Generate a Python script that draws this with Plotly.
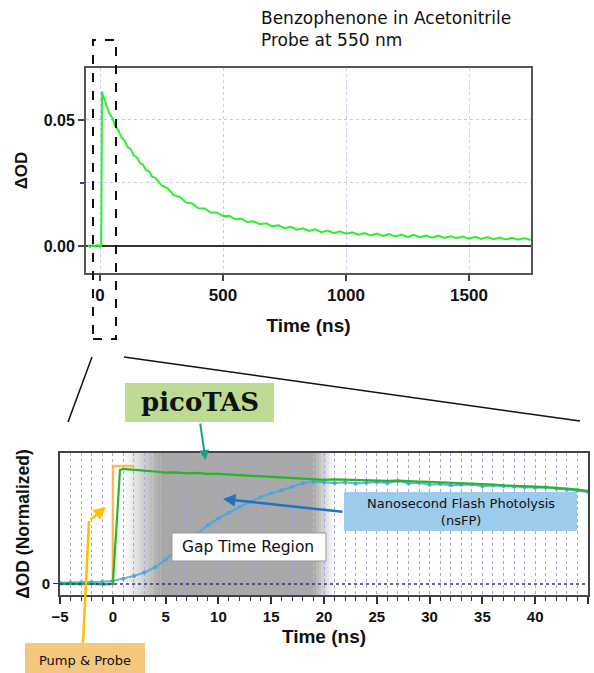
import plotly.graph_objects as go

# ---------------- data ----------------
# Top panel: Benzophenone in acetonitrile, probe 550 nm (Time in ns, dOD)
top_time = [-50, -40, -30, -20, -10, 0, 5, 8, 12, 18, 25, 37, 50, 62, 75, 87, 100, 112, 125, 137,
            150, 162, 175, 187, 200, 212, 225, 250, 275, 300, 325, 350, 375, 400, 425, 450, 475,
            500, 525, 550, 575, 600, 625, 650, 675, 700, 725, 750, 775, 800, 825, 850, 875, 900,
            925, 950, 975, 1000, 1025, 1050, 1075, 1100, 1125, 1150, 1175, 1200, 1225, 1250,
            1275, 1300, 1325, 1350, 1375, 1400, 1425, 1450, 1475, 1500, 1525, 1550, 1575, 1600,
            1625, 1650, 1675, 1700, 1725, 1750]
top_dod = [0.0002, -0.0004, 0.0003, -0.0002, 0.0004, -0.0003, 0.0003, 0.0613, 0.0598, 0.0582,
           0.0565, 0.0528, 0.0508, 0.0476, 0.0459, 0.0431, 0.0419, 0.0392, 0.0384, 0.0359,
           0.0351, 0.0329, 0.0322, 0.0301, 0.0296, 0.0275, 0.0270, 0.0240, 0.0229, 0.0202,
           0.0194, 0.0172, 0.0169, 0.0150, 0.0149, 0.0133, 0.0133, 0.0119, 0.0120, 0.0106,
           0.0108, 0.0095, 0.0098, 0.0086, 0.0090, 0.0078, 0.0082, 0.0071, 0.0076, 0.0065,
           0.0070, 0.0060, 0.0066, 0.0055, 0.0061, 0.0051, 0.0058, 0.0049, 0.0054, 0.0045,
           0.0051, 0.0042, 0.0049, 0.0040, 0.0047, 0.0038, 0.0045, 0.0036, 0.0044, 0.0035,
           0.0042, 0.0033, 0.0041, 0.0032, 0.0039, 0.0031, 0.0038, 0.0029, 0.0037, 0.0028,
           0.0036, 0.0027, 0.0034, 0.0026, 0.0033, 0.0025, 0.0032, 0.0024]

# Bottom panel: normalized dOD, first 45 ns
pico_time = [-5, -4, -3, -2, -1, -0.2, 0.0, 0.35, 0.68, 1.0, 1.5, 2, 3, 4, 5, 6, 7, 8, 9, 10,
             11, 12, 13, 14, 15, 16, 17, 18, 19, 20, 21, 22, 23, 24, 25, 26, 27, 28, 29, 30,
             31, 32, 33, 34, 35, 36, 37, 38, 39, 40, 41, 42, 43, 44, 45]
pico_dod = [0.0, 0.003, -0.002, 0.002, -0.003, 0.001, 0.0, 0.5, 0.99, 1.0, 0.995, 0.99, 0.985,
            0.978, 0.968, 0.971, 0.962, 0.966, 0.958, 0.957, 0.952, 0.947, 0.944, 0.936, 0.932,
            0.928, 0.921, 0.918, 0.913, 0.905, 0.909, 0.906, 0.908, 0.901, 0.902, 0.897, 0.898,
            0.892, 0.890, 0.887, 0.884, 0.878, 0.877, 0.870, 0.866, 0.865, 0.858, 0.856, 0.850,
            0.846, 0.843, 0.838, 0.830, 0.821, 0.810]

pump_time = [-5, 0, 0.02, 1.9]
pump_dod = [0.0, 0.0, 1.026, 1.026]

nsfp_time = [-5, -4, -3, -2, -1, 0, 1, 2, 3, 4, 5, 6, 7, 8, 9, 10, 11, 12, 13, 14, 15, 16, 17,
             18, 19, 20, 21, 22, 23, 24, 25, 26, 27, 28, 29, 30, 31, 32, 33, 34, 35, 36, 37, 38,
             39, 40, 41, 42, 43, 44, 45]
nsfp_dod = [0.011, 0.012, 0.014, 0.017, 0.020, 0.026, 0.045, 0.070, 0.100, 0.145, 0.210, 0.290,
            0.360, 0.440, 0.510, 0.570, 0.620, 0.670, 0.715, 0.755, 0.790, 0.815, 0.845, 0.875,
            0.890, 0.885, 0.878, 0.884, 0.874, 0.880, 0.886, 0.879, 0.895, 0.874, 0.881, 0.862,
            0.870, 0.858, 0.862, 0.866, 0.850, 0.856, 0.851, 0.845, 0.842, 0.836, 0.840, 0.830,
            0.820, 0.812, 0.800]

top_xticks = [0, 500, 1000, 1500]
gap_full = (4.5, 19.0)   # fully shaded gap-time window (ns)
gap_fade_in = 1.0
gap_fade_out = 21.0

# ---------------- geometry helpers (pixels -> paper) ----------------
W, H = 594, 673
def px(x):
    return x / W
def py(y):
    return 1 - y / H

fig = go.Figure()

fig.add_trace(go.Scatter(x=top_time, y=top_dod, mode="lines",
                         line=dict(color="#2cf02c", width=2), xaxis="x", yaxis="y",
                         showlegend=False))
fig.add_trace(go.Scatter(x=pump_time, y=pump_dod, mode="lines",
                         line=dict(color="rgba(252,178,60,0.85)", width=2.5),
                         xaxis="x2", yaxis="y2", showlegend=False))
fig.add_trace(go.Scatter(x=nsfp_time, y=nsfp_dod, mode="lines+markers",
                         line=dict(color="rgba(70,165,225,0.85)", width=2),
                         marker=dict(size=4, color="rgba(70,165,225,0.95)"),
                         xaxis="x2", yaxis="y2", showlegend=False))
fig.add_trace(go.Scatter(x=pico_time, y=pico_dod, mode="lines",
                         line=dict(color="#27b427", width=2.2), xaxis="x2", yaxis="y2",
                         showlegend=False))

tickfont_b = dict(family="Liberation Sans, Arial", size=16, color="#111", weight="bold")
grid_top = "rgb(200,200,255)"
grid_bot = "rgb(165,165,235)"

fig.update_layout(
    width=W, height=H, margin=dict(l=0, r=0, t=0, b=0),
    paper_bgcolor="white", plot_bgcolor="rgba(0,0,0,0)",
    xaxis=dict(domain=[px(86), px(531)], anchor="y", range=[-57, 1752], automargin=False,
               tickvals=top_xticks, ticks="outside", ticklen=6, tickwidth=1.5,
               tickcolor="#444", tickfont=dict(tickfont_b, size=17),
               showgrid=True, gridcolor=grid_top, griddash="dot", gridwidth=1,
               zeroline=False, showline=True, linecolor="#555", linewidth=2, mirror=True,
               title=dict(text="Time (ns)", standoff=14,
                          font=dict(family="Liberation Sans, Arial", size=19, color="#111",
                                    weight="bold"))),
    yaxis=dict(domain=[py(273), py(68)], anchor="x", range=[-0.0107, 0.0706], automargin=False,
               tickvals=[0, 0.05], tickformat=".2f", ticks="outside", ticklen=6,
               tickwidth=1.5, tickcolor="#444", tickfont=tickfont_b,
               showgrid=True, gridcolor=grid_top, griddash="dot",
               minor=dict(tickvals=[0.025], ticks="outside", ticklen=4, tickcolor="#444",
                          showgrid=True, gridcolor=grid_top, griddash="dot"),
               zeroline=True, zerolinecolor="#333", zerolinewidth=1.5,
               showline=True, linecolor="#555", linewidth=2, mirror=True,
               title=dict(text="ΔOD", standoff=12,
                          font=dict(family="Liberation Sans, Arial", size=17, color="#111",
                                    weight="bold"))),
    xaxis2=dict(domain=[px(60), px(588)], anchor="y2", range=[-5, 45], automargin=False,
                dtick=5, tick0=0, ticks="outside", ticklen=7, tickwidth=1.5, tickcolor="#333",
                tickfont=dict(tickfont_b, size=15),
                showgrid=True, gridcolor=grid_bot, griddash="dot", gridwidth=1,
                minor=dict(dtick=1, ticks="outside", ticklen=4, tickwidth=1.2, tickcolor="#333",
                           showgrid=True, gridcolor=grid_bot, griddash="dot"),
                zeroline=False, showline=True, linecolor="#444", linewidth=2, mirror=True,
                title=dict(text="Time (ns)", standoff=6,
                           font=dict(family="Liberation Sans, Arial", size=19, color="#111",
                                     weight="bold"))),
    yaxis2=dict(domain=[py(595), py(453)], anchor="x2", range=[-0.096, 1.139], automargin=False,
                tickvals=[0], ticks="outside", ticklen=5, tickcolor="#333",
                tickfont=dict(tickfont_b, size=15), showgrid=False, zeroline=False,
                showline=True, linecolor="#444", linewidth=2, mirror=True,
                title=dict(text="ΔOD (Normalized)", standoff=8,
                           font=dict(family="Liberation Sans, Arial", size=17.5, color="#111",
                                     weight="bold"))),
)

shapes = []
# gap-time shading (fade in, solid, fade out)
def gray(level):
    g = int(round(255 - (255 - 168) * level))
    return f"rgb({g},{g},{g})"

n_in = 14
step_in = (gap_full[0] - gap_fade_in) / n_in
for i in range(n_in):
    x0 = gap_fade_in + i * step_in
    shapes.append(dict(type="rect", xref="x2", yref="y2 domain", x0=x0, x1=x0 + step_in + 0.02,
                       y0=0, y1=1, fillcolor=gray((i + 0.5) / n_in), line=dict(width=0),
                       layer="below"))
shapes.append(dict(type="rect", xref="x2", yref="y2 domain", x0=gap_full[0], x1=gap_full[1],
                   y0=0, y1=1, fillcolor=gray(1), line=dict(width=0), layer="below"))
n_out = 8
step_out = (gap_fade_out - gap_full[1]) / n_out
for i in range(n_out):
    x0 = gap_full[1] + i * step_out
    shapes.append(dict(type="rect", xref="x2", yref="y2 domain", x0=x0, x1=x0 + step_out + 0.02,
                       y0=0, y1=1, fillcolor=gray(1 - (i + 0.5) / n_out), line=dict(width=0),
                       layer="below"))
# dotted zero line in bottom panel
shapes.append(dict(type="line", xref="x2 domain", yref="y2", x0=0, x1=1, y0=0, y1=0,
                   line=dict(color="#34346e", width=1.5, dash="dot")))

# dashed zoom box on top chart and the zoom lines
shapes.append(dict(type="rect", xref="paper", yref="paper", x0=px(93), x1=px(116),
                   y0=py(339), y1=py(40), line=dict(color="#111", width=2, dash="dash")))
shapes.append(dict(type="line", xref="paper", yref="paper", x0=px(92), y0=py(357),
                   x1=px(68), y1=py(422), line=dict(color="#111", width=1.5)))
shapes.append(dict(type="line", xref="paper", yref="paper", x0=px(124), y0=py(357),
                   x1=px(580), y1=py(421), line=dict(color="#111", width=1.5)))

# label boxes
shapes.append(dict(type="rect", xref="paper", yref="paper", x0=px(125), x1=px(274),
                   y0=py(422), y1=py(383), fillcolor="#bddb92", line=dict(width=0)))
shapes.append(dict(type="rect", xref="paper", yref="paper", x0=px(172), x1=px(326),
                   y0=py(561), y1=py(533), fillcolor="white", line=dict(color="#999", width=1)))
shapes.append(dict(type="rect", xref="paper", yref="paper", x0=px(344), x1=px(577),
                   y0=py(531), y1=py(492), fillcolor="#9dcbec", line=dict(width=0)))
shapes.append(dict(type="rect", xref="paper", yref="paper", x0=px(25), x1=px(145),
                   y0=py(673), y1=py(643), fillcolor="#f5c77e", line=dict(width=0)))
# first leg of the "Pump & Probe" pointer
shapes.append(dict(type="line", xref="paper", yref="paper", x0=px(83), y0=py(643),
                   x1=px(89), y1=py(521), line=dict(color="#ffc000", width=2.5)))
fig.update_layout(shapes=shapes)

annotations = [
    dict(text="Benzophenone in Acetonitrile<br>Probe at 550 nm", xref="paper", yref="paper",
         x=px(259), y=py(29.5), xanchor="left", yanchor="middle", align="left",
         showarrow=False, font=dict(family="DejaVu Sans", size=17, color="#111")),
    dict(text="<b>picoTAS</b>", xref="paper", yref="paper", x=px(199.5), y=py(402),
         xanchor="center", yanchor="middle", showarrow=False,
         font=dict(family="DejaVu Serif", size=26, color="#111")),
    dict(text="Gap Time Region", xref="paper", yref="paper", x=px(248), y=py(547),
         xanchor="center", yanchor="middle", showarrow=False,
         font=dict(family="DejaVu Sans", size=15.5, color="#111")),
    dict(text="Nanosecond Flash Photolysis<br>(nsFP)", xref="paper", yref="paper",
         x=px(460.5), y=py(512), xanchor="center", yanchor="middle", showarrow=False,
         font=dict(family="DejaVu Sans", size=13, color="#111")),
    dict(text="Pump &amp; Probe", xref="paper", yref="paper", x=px(85), y=py(660),
         xanchor="center", yanchor="middle", showarrow=False,
         font=dict(family="DejaVu Sans", size=13, color="#111")),
    # arrows
    dict(text="", xref="paper", yref="paper", x=px(205.5), y=py(460), ax=-5.5, ay=-38,
         showarrow=True, arrowhead=2, arrowsize=1, arrowwidth=2, arrowcolor="#16a085"),
    dict(text="", xref="paper", yref="paper", x=px(223), y=py(499), ax=121, ay=13,
         showarrow=True, arrowhead=2, arrowsize=1, arrowwidth=2.5, arrowcolor="#1f72c2"),
    dict(text="", xref="paper", yref="paper", x=px(106), y=py(507), ax=-17, ay=14,
         showarrow=True, arrowhead=2, arrowsize=1, arrowwidth=2.5, arrowcolor="#ffc000"),
]
fig.update_layout(annotations=annotations)

fig.write_html("out.html", config={"displayModeBar": False},
               post_script="document.body.style.margin='0px';document.body.style.overflow='hidden';")
